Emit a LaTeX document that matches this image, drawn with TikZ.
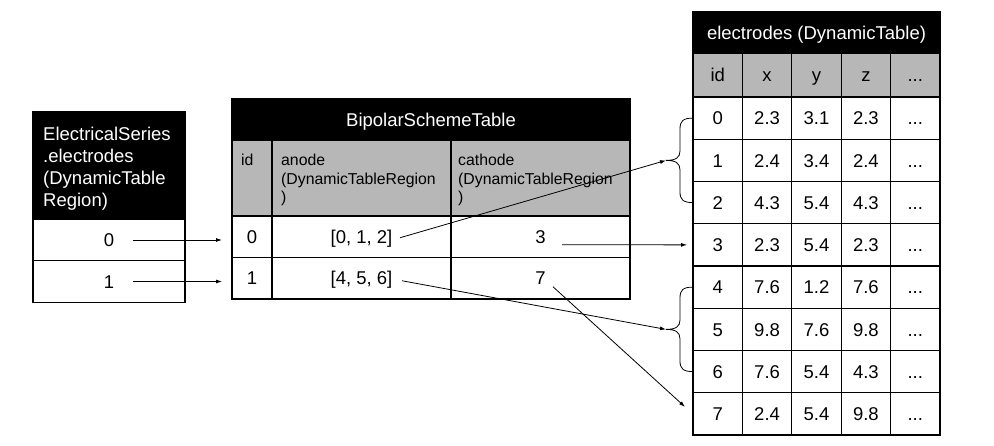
\documentclass[tikz,border=0pt]{standalone}
\usepackage{fontspec}
\setmainfont{Liberation Sans}
\usetikzlibrary{arrows.meta}
\definecolor{hdrgray}{RGB}{183,183,183}
\begin{document}
\begin{tikzpicture}[x=1pt,y=-1pt,
  every node/.style={font=\fontsize{18.5}{22}\selectfont},
  cellbox/.style={draw=black, line width=1.1pt, inner sep=0pt, outer sep=0pt, anchor=center, text height=13.3pt, text depth=0pt},
  blackhead/.style={cellbox, fill=black, text=white},
  grayhead/.style={cellbox, fill=hdrgray},
  datacell/.style={cellbox, minimum width=49.4pt, minimum height=42.25pt},
  graycell/.style={grayhead, minimum width=49.4pt, minimum height=44pt},
  smalltext/.style={font=\fontsize{15.8}{18.5}\selectfont, inner sep=0pt, anchor=base west, align=left},
  arr/.style={line width=0.8pt, -{Latex[length=6pt,width=4pt]}},
  bracestyle/.style={line width=0.8pt}
]
\useasboundingbox (0,0) rectangle (994,446);

% ---------- left table ----------
\node[blackhead, minimum width=152pt, minimum height=107pt] (lh) at (109,165.5) {};
\node[inner sep=0pt, anchor=base west, text=white, align=left] (lht) at (43,207) {ElectricalSeries\\.electrodes\\(DynamicTable\\Region)};
\node[cellbox, minimum width=152pt, minimum height=41.5pt] (l0) at (109,240) {0};
\node[cellbox, minimum width=152pt, minimum height=41.5pt] (l1) at (109,281.5) {1};

% ---------- middle table ----------
\node[blackhead, minimum width=398pt, minimum height=41pt] (mh) at (431,119.5) {BipolarSchemeTable};
\node[grayhead, minimum width=40pt, minimum height=76pt] (mgid) at (252,178) {};
\node[grayhead, minimum width=179pt, minimum height=76pt] (mgan) at (361.5,178) {};
\node[grayhead, minimum width=179pt, minimum height=76pt] (mgca) at (540.5,178) {};
\node[smalltext] (tid) at (241,166) {id};
\node[smalltext] (tan) at (281,203) {anode\\(DynamicTableRegion\\)};
\node[smalltext] (tca) at (458,203) {cathode\\(DynamicTableRegion\\)};
\node[cellbox, minimum width=40pt, minimum height=41.5pt] (m0) at (252,236.75) {0};
\node[cellbox, minimum width=179pt, minimum height=41.5pt] (a0) at (361.5,236.75) {[0, 1, 2]};
\node[cellbox, minimum width=179pt, minimum height=41.5pt] (c0) at (540.5,236.75) {3};
\node[cellbox, minimum width=40pt, minimum height=41.5pt] (m1) at (252,278.25) {1};
\node[cellbox, minimum width=179pt, minimum height=41.5pt] (a1) at (361.5,278.25) {[4, 5, 6]};
\node[cellbox, minimum width=179pt, minimum height=41.5pt] (c1) at (540.5,278.25) {7};

% ---------- right table ----------
\node[blackhead, minimum width=247pt, minimum height=41pt] (eh) at (816.5,32.5) {electrodes (DynamicTable)};
\node[graycell] (egid) at (717.7,75) {id};
\node[graycell] (egx) at (767.1,75) {x};
\node[graycell] (egy) at (816.5,75) {y};
\node[graycell] (egz) at (865.9,75) {z};
\node[graycell] (egd) at (915.3,75) {...};
\foreach \r/\xv/\yv/\zv in {0/2.3/3.1/2.3,1/2.4/3.4/2.4,2/4.3/5.4/4.3,3/2.3/5.4/2.3,4/7.6/1.2/7.6,5/9.8/7.6/9.8,6/7.6/5.4/4.3,7/2.4/5.4/9.8}{
  \node[datacell] (e\r) at (717.7,{118.125+42.25*\r}) {\r};
  \node[datacell] (ex\r) at (767.1,{118.125+42.25*\r}) {\xv};
  \node[datacell] (ey\r) at (816.5,{118.125+42.25*\r}) {\yv};
  \node[datacell] (ez\r) at (865.9,{118.125+42.25*\r}) {\zv};
  \node[datacell] (ed\r) at (915.3,{118.125+42.25*\r}) {...};
}

% ---------- braces ----------
\coordinate (b1) at (666,160.4);
\coordinate (b2) at (666,329.4);
\draw[bracestyle] (e0.west) .. controls (683,118.1) and (680,121) .. (680,129) -- (680,151)
  .. controls (680,157.5) and (676,160.4) .. (b1)
  .. controls (676,160.4) and (680,163.3) .. (680,170) -- (680,192)
  .. controls (680,199.5) and (683,202.6) .. (e2.west);
\draw[bracestyle] (e4.west) .. controls (683,287.1) and (680,290) .. (680,298) -- (680,320)
  .. controls (680,326.5) and (676,329.4) .. (b2)
  .. controls (676,329.4) and (680,332.3) .. (680,339) -- (680,361)
  .. controls (680,368.5) and (683,371.6) .. (e6.west);

% ---------- connectors ----------
\draw[arr, shorten >=10pt] ([xshift=24pt]l0.center) -- (l0.center -| m0.west);
\draw[arr, shorten >=10pt] ([xshift=24pt]l1.center) -- (l1.center -| m1.west);
\draw[arr] ([xshift=38.5pt,yshift=-1pt]a0.center) -- (b1);
\draw[arr] ([xshift=21.5pt,yshift=-8pt]c0.center) -- ([xshift=-6pt]e3.west);
\draw[arr] ([xshift=40.5pt,yshift=-2.5pt]a1.center) -- (b2);
\draw[arr] ([xshift=12.5pt,yshift=-8.5pt]c1.center) -- ([xshift=-8pt,yshift=7pt]e7.west);
\end{tikzpicture}
\end{document}
